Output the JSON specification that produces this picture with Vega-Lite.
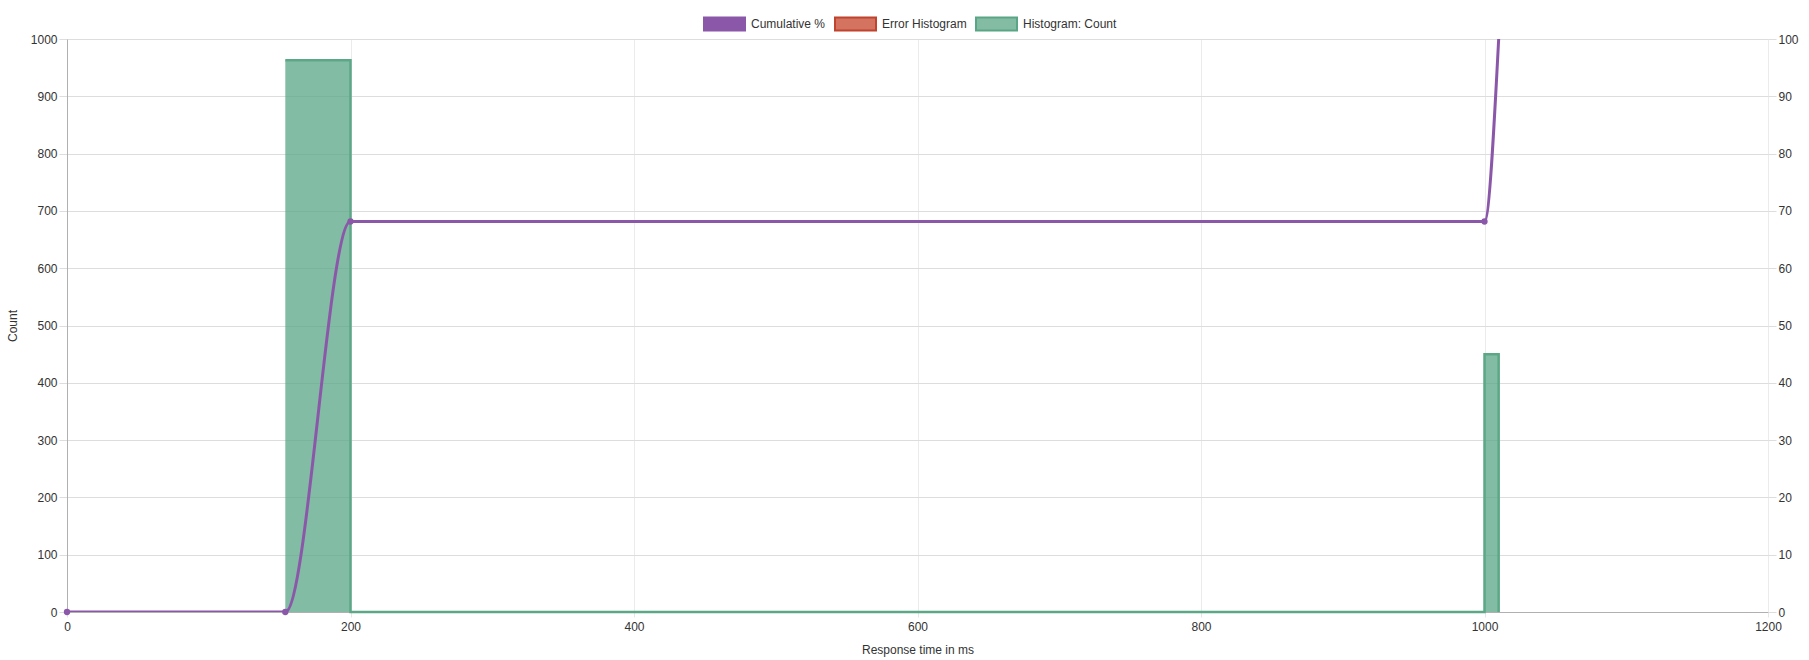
{
  "$schema": "https://vega.github.io/schema/vega-lite/v6.json",
  "width": 1701,
  "height": 573,
  "autosize": {"type": "none"},
  "padding": {"left": 67, "top": 39, "right": 41, "bottom": 48},
  "background": "white",
  "config": {
    "view": {"stroke": null},
    "font": "Liberation Sans",
    "axis": {
      "labelFont": "Liberation Sans",
      "labelFontSize": 12,
      "labelColor": "#333333",
      "titleFont": "Liberation Sans",
      "titleFontSize": 12,
      "titleFontWeight": "normal",
      "titleColor": "#333333",
      "domainColor": "#b0b0b0",
      "labelFlush": false,
      "labelOverlap": false,
      "format": "d",
      "zindex": 0
    },
    "legend": {
      "orient": "none",
      "legendX": 636,
      "legendY": -37,
      "direction": "horizontal",
      "symbolType": "M-1,-0.32h2v0.64h-2z",
      "symbolSize": 1681,
      "symbolStrokeWidth": 2,
      "symbolOpacity": 1,
      "labelFont": "Liberation Sans",
      "labelFontSize": 12,
      "labelColor": "#333333",
      "labelOffset": 5,
      "columnPadding": 5
    }
  },
  "datasets": {
    "hist": [
      {"ms": 154, "count": 963},
      {"ms": 200, "count": 0},
      {"ms": 1000, "count": 450},
      {"ms": 1010, "count": 0}
    ],
    "cum": [
      {"ms": 0, "cum": 0},
      {"ms": 154, "cum": 0},
      {"ms": 200, "cum": 68.15},
      {"ms": 1000, "cum": 68.15},
      {"ms": 1010, "cum": 100}
    ]
  },
  "layer": [
    {
      "data": {"name": "hist"},
      "encoding": {
        "x": {
          "field": "ms", "type": "quantitative",
          "scale": {"domain": [0, 1200], "nice": false, "zero": false},
          "axis": {
            "values": [0, 200, 400, 600, 800, 1000, 1200],
            "format": "d",
            "grid": true, "gridColor": "#ebebeb",
            "tickColor": "#e6e6e6", "tickSize": 5, "labelPadding": 4,
            "title": "Response time in ms", "titlePadding": 12
          }
        },
        "y": {
          "field": "count", "type": "quantitative",
          "scale": {"domain": [0, 1000], "nice": false},
          "axis": {
            "orient": "left",
            "values": [0, 100, 200, 300, 400, 500, 600, 700, 800, 900, 1000],
            "format": "d",
            "grid": true, "gridColor": "#dddddd",
            "tickColor": "#dddddd", "tickSize": 8, "labelPadding": 2,
            "title": "Count", "titlePadding": 11
          }
        }
      },
      "layer": [
        {"mark": {"type": "area", "interpolate": "step-after", "color": "#5aa585", "opacity": 0.75}},
        {"mark": {"type": "line", "interpolate": "step-after", "color": "#5ca886", "strokeWidth": 2.5}}
      ]
    },
    {
      "data": {"name": "cum"},
      "encoding": {
        "x": {
          "field": "ms", "type": "quantitative",
          "scale": {"domain": [0, 1200], "nice": false, "zero": false},
          "axis": {
            "values": [0, 200, 400, 600, 800, 1000, 1200],
            "format": "d",
            "grid": true, "gridColor": "#ebebeb",
            "tickColor": "#e6e6e6", "tickSize": 5, "labelPadding": 4,
            "title": "Response time in ms", "titlePadding": 12
          }
        },
        "y": {
          "field": "cum", "type": "quantitative",
          "scale": {"domain": [0, 100], "nice": false},
          "axis": {
            "orient": "right",
            "values": [0, 10, 20, 30, 40, 50, 60, 70, 80, 90, 100],
            "format": "d",
            "grid": false, "domain": false,
            "tickColor": "#dddddd", "tickSize": 8, "labelPadding": 2,
            "title": null
          }
        }
      },
      "layer": [
        {
          "mark": {"type": "line", "interpolate": "monotone", "strokeWidth": 3, "clip": true, "color": "#8b58a9"}
        },
        {
          "transform": [{"filter": "datum.cum < 100"}],
          "mark": {"type": "point", "filled": true, "size": 40, "opacity": 1, "strokeWidth": 0},
          "encoding": {
            "fill": {
              "datum": "Cumulative %",
              "type": "nominal",
              "scale": {
                "domain": ["Cumulative %", "Error Histogram", "Histogram: Count"],
                "range": ["#8b58a9", "#d4735f", "#84bca3"]
              },
              "legend": {"title": null}
            },
            "stroke": {
              "datum": "Cumulative %",
              "type": "nominal",
              "scale": {
                "domain": ["Cumulative %", "Error Histogram", "Histogram: Count"],
                "range": ["#8b58a9", "#c0432f", "#5aa585"]
              },
              "legend": {"title": null}
            }
          }
        }
      ]
    }
  ],
  "resolve": {"scale": {"y": "independent"}}
}
